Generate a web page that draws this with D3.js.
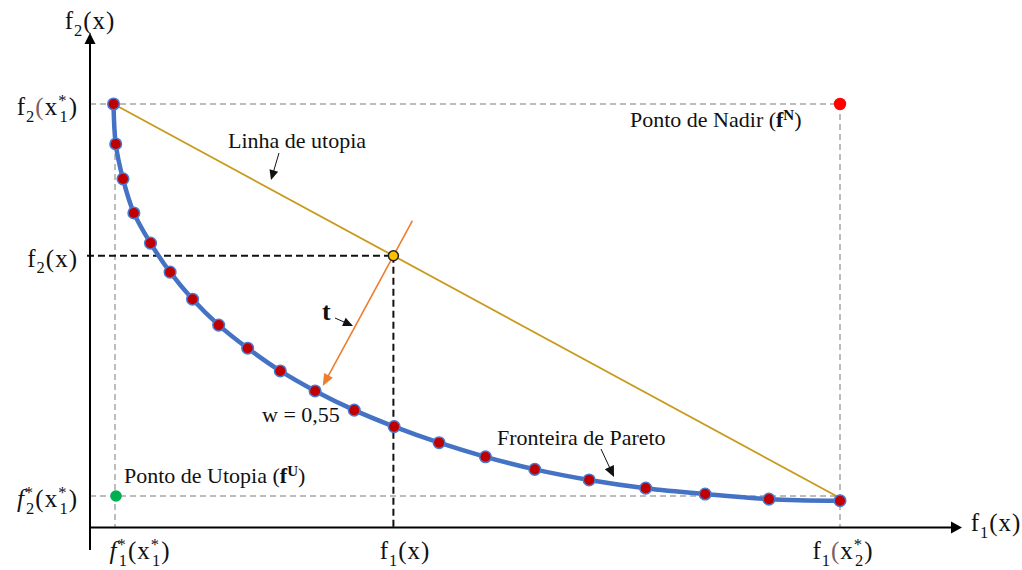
<!DOCTYPE html>
<html>
<head>
<meta charset="utf-8">
<script src="https://cdn.jsdelivr.net/npm/d3@7"></script>
<style>
  html, body { margin: 0; padding: 0; background: #fff; }
  svg { display: block; }
</style>
</head>
<body>
<svg id="chart" width="1022" height="570"></svg>
<script>
// Pareto frontier (normalised objective values f1, f2)
const paretoF1 = [-0.002, 0.001, 0.011, 0.026, 0.049, 0.076, 0.107, 0.143, 0.183, 0.228, 0.276,
                  0.330, 0.385, 0.447, 0.511, 0.579, 0.654, 0.732, 0.814, 0.902, 1.000];
const paretoF2 = [1.000, 0.898, 0.809, 0.722, 0.645, 0.571, 0.502, 0.436, 0.377, 0.319, 0.268,
                  0.219, 0.177, 0.136, 0.100, 0.068, 0.041, 0.020, 0.005, -0.008, -0.012];

// Anchor points
const utopiaPoint = [0, 0];
const nadirPoint = [1, 1];
const selectedF1 = 0.384;      // point on the utopia line
const weightIndex = 10;        // frontier point reached along t (w = 0,55)
const weightLabel = "w = 0,55";

// Tick labels (segments: t = text, k = sub/sup, dx = shift, i = italic, c = colour)
const yTickValues = [1, null, 0];   // null -> value of the selected point
const yTickLabels = [
  [{t:"f"},{t:"2",k:"sub"},{t:"(",c:"#7d5f5f"},{t:"x"},{t:"*",k:"sup"},{t:"1",k:"sub",dx:-8},{t:")"}],
  [{t:"f"},{t:"2",k:"sub"},{t:"(x)"}],
  [{t:"f",i:true},{t:"*",k:"sup"},{t:"2",k:"sub",dx:-8},{t:"(x"},{t:"*",k:"sup"},{t:"1",k:"sub",dx:-8},{t:")"}]
];
const xTickValues = [0, null, 1];
const xTickLabels = [
  [{t:"f",i:true},{t:"*",k:"sup"},{t:"1",k:"sub",dx:-8},{t:"(x"},{t:"*",k:"sup"},{t:"1",k:"sub",dx:-8},{t:")"}],
  [{t:"f"},{t:"1",k:"sub"},{t:"(x)"}],
  [{t:"f"},{t:"1",k:"sub"},{t:"(",c:"#7d5f5f"},{t:"x"},{t:"*",k:"sup"},{t:"2",k:"sub",dx:-8},{t:")"}]
];
const yAxisTitle = [{t:"f"},{t:"2",k:"sub"},{t:"(x)"}];
const xAxisTitle = [{t:"f"},{t:"1",k:"sub"},{t:"(x)"}];

// ---------------------------------------------------------------------------
const svg = d3.select("#chart");
const W = 1022, H = 570;
svg.append("rect").attr("width", W).attr("height", H).attr("fill", "#fff");

const x = d3.scaleLinear().domain([0, 1]).range([115, 840]);
const y = d3.scaleLinear().domain([0, 1]).range([496, 104]);

const axisX = 90, axisY = 527.5;
const MATH_FONT = "'Liberation Serif', 'Times New Roman', serif";
const TEXT_FONT = "'Liberation Serif', 'Times New Roman', serif";

const pts = paretoF1.map((f1, i) => [f1, paretoF2[i]]);

// utopia line: from the best-f2 frontier end to the best-f1 end
const uStart = pts[0], uEnd = [1, -0.005];
const selT = (selectedF1 - uStart[0]) / (uEnd[0] - uStart[0]);
const selectedF2 = uStart[1] + selT * (uEnd[1] - uStart[1]);

function richText(sel, segs, fs) {
  let cur = 0;
  segs.forEach(s => {
    const off = s.k === "sub" ? 0.26 * fs : s.k === "sup" ? -0.36 * fs : 0;
    const ts = sel.append("tspan").text(s.t).attr("dy", off - cur);
    cur = off;
    if (s.k) ts.attr("font-size", fs * 0.66);
    if (s.dx) ts.attr("dx", s.dx);
    if (s.i) ts.attr("font-style", "italic");
    if (s.b) ts.attr("font-weight", "bold");
    if (s.c) ts.attr("fill", s.c);
  });
}

function arrow(g, x1, y1, x2, y2, color, width, headLen, headW) {
  const dx = x2 - x1, dy = y2 - y1, L = Math.hypot(dx, dy);
  const ux = dx / L, uy = dy / L;
  const bx = x2 - ux * headLen, by = y2 - uy * headLen;
  g.append("line").attr("x1", x1).attr("y1", y1).attr("x2", bx + ux).attr("y2", by + uy)
    .attr("stroke", color).attr("stroke-width", width);
  g.append("path")
    .attr("d", `M${x2},${y2}L${bx - uy * headW / 2},${by + ux * headW / 2}L${bx + uy * headW / 2},${by - ux * headW / 2}Z`)
    .attr("fill", color);
}

// ---- reference dashed lines ----
const gray = svg.append("g").attr("stroke", "#a6a6a6").attr("stroke-width", 1.5)
  .attr("stroke-dasharray", "6,4").attr("fill", "none");
gray.append("line").attr("x1", axisX).attr("x2", x(nadirPoint[0])).attr("y1", y(nadirPoint[1])).attr("y2", y(nadirPoint[1]));
gray.append("line").attr("x1", x(nadirPoint[0])).attr("x2", x(nadirPoint[0])).attr("y1", y(nadirPoint[1])).attr("y2", axisY);
gray.append("line").attr("x1", x(utopiaPoint[0])).attr("x2", x(utopiaPoint[0])).attr("y1", y(nadirPoint[1])).attr("y2", axisY);
gray.append("line").attr("x1", axisX).attr("x2", x(nadirPoint[0])).attr("y1", y(utopiaPoint[1])).attr("y2", y(utopiaPoint[1]));

const sx = x(selectedF1), sy = y(selectedF2);
const blk = svg.append("g").attr("stroke", "#111").attr("stroke-width", 2)
  .attr("stroke-dasharray", "7,4").attr("fill", "none");
blk.append("line").attr("x1", axisX - 3).attr("x2", sx).attr("y1", sy).attr("y2", sy);
blk.append("line").attr("x1", sx).attr("x2", sx).attr("y1", sy).attr("y2", axisY);

// ---- axes ----
const ax = svg.append("g");
ax.append("line").attr("x1", axisX).attr("x2", axisX).attr("y1", 550).attr("y2", 40)
  .attr("stroke", "#000").attr("stroke-width", 2);
ax.append("path").attr("d", `M${axisX},33L${axisX - 5.5},44L${axisX + 5.5},44Z`).attr("fill", "#000");
ax.append("line").attr("x1", axisX).attr("x2", 955).attr("y1", axisY).attr("y2", axisY)
  .attr("stroke", "#000").attr("stroke-width", 2);
ax.append("path").attr("d", `M962,${axisY}L951,${axisY - 6}L951,${axisY + 6}Z`).attr("fill", "#000");

// ---- utopia line ----
svg.append("line")
  .attr("x1", x(uStart[0])).attr("y1", y(uStart[1]))
  .attr("x2", x(uEnd[0])).attr("y2", y(uEnd[1]))
  .attr("stroke", "#c79a1c").attr("stroke-width", 1.8);

// ---- Pareto frontier ----
svg.append("path").datum(pts)
  .attr("d", d3.line().x(d => x(d[0])).y(d => y(d[1])).curve(d3.curveCatmullRom.alpha(0.5)))
  .attr("fill", "none").attr("stroke", "#4472c4").attr("stroke-width", 4.5)
  .attr("stroke-linejoin", "round");

// ---- search direction t (normal to the utopia line) ----
const lx = x(uEnd[0]) - x(uStart[0]), ly = y(uEnd[1]) - y(uStart[1]);
const LL = Math.hypot(lx, ly);
const nx = -ly / LL, ny = lx / LL;          // points down-left
const target = pts[weightIndex];
const reach = (x(target[0]) - sx) * nx + (y(target[1]) - sy) * ny - 8;
arrow(svg.append("g"), sx - nx * 40, sy - ny * 40, sx + nx * reach, sy + ny * reach, "#ed7d31", 1.6, 12, 10);

svg.append("g").selectAll("circle").data(pts).join("circle")
  .attr("cx", d => x(d[0])).attr("cy", d => y(d[1])).attr("r", 5.8)
  .attr("fill", "#c00000").attr("stroke", "#4a7bd0").attr("stroke-width", 1.5);

// ---- special points ----
svg.append("circle").attr("cx", sx).attr("cy", sy).attr("r", 5)
  .attr("fill", "#ffc000").attr("stroke", "#222").attr("stroke-width", 1.5);
svg.append("circle").attr("cx", x(nadirPoint[0])).attr("cy", y(nadirPoint[1])).attr("r", 6.2).attr("fill", "#ff0000");
svg.append("circle").attr("cx", x(utopiaPoint[0]) + 1).attr("cy", y(utopiaPoint[1])).attr("r", 5.8).attr("fill", "#00b050");

// ---- tick labels ----
const MFS = 25;
const mathText = (xx, yy, anchor) => svg.append("text").attr("x", xx).attr("y", yy)
  .attr("text-anchor", anchor).attr("font-family", MATH_FONT).attr("font-size", MFS)
  .attr("letter-spacing", 1).attr("fill", "#111");

yTickValues.forEach((v, i) => {
  const yy = y(v === null ? selectedF2 : v);
  richText(mathText(78, yy + 11, "end"), yTickLabels[i], MFS);
});
const xLabelPos = [140, 405, 843];
xTickValues.forEach((v, i) => {
  richText(mathText(xLabelPos[i], 559, "middle"), xTickLabels[i], MFS);
});
richText(mathText(axisX, 29, "middle"), yAxisTitle, MFS);
richText(mathText(996, 531, "middle"), xAxisTitle, MFS);

// ---- annotations ----
const TFS = 22;
const ann = svg.append("g").attr("font-family", TEXT_FONT).attr("font-size", TFS).attr("fill", "#111");
ann.append("text").attr("x", 228).attr("y", 148).text("Linha de utopia");
arrow(svg.append("g"), 279, 153, 271, 180, "#111", 1, 10, 9);

{
  const t = ann.append("text").attr("x", 630).attr("y", 127);
  t.append("tspan").text("Ponto de Nadir (");
  t.append("tspan").text("f").attr("font-weight", "bold");
  t.append("tspan").text("N").attr("font-weight", "bold").attr("font-size", 15).attr("dy", -7);
  t.append("tspan").text(")").attr("dy", 7);
}
{
  const t = ann.append("text").attr("x", 124).attr("y", 483);
  t.append("tspan").text("Ponto de Utopia (");
  t.append("tspan").text("f").attr("font-weight", "bold");
  t.append("tspan").text("U").attr("font-weight", "bold").attr("font-size", 15).attr("dy", -7);
  t.append("tspan").text(")").attr("dy", 7);
}
ann.append("text").attr("x", 322).attr("y", 320).attr("font-weight", "bold").attr("font-size", 26).text("t");
arrow(svg.append("g"), 335, 318, 353, 326, "#111", 1, 10, 9);

ann.append("text").attr("x", 262).attr("y", 422).text(weightLabel);

ann.append("text").attr("x", 497).attr("y", 445).text("Fronteira de Pareto");
arrow(svg.append("g"), 601, 449, 614, 477, "#111", 1, 11, 10);
</script>
</body>
</html>
